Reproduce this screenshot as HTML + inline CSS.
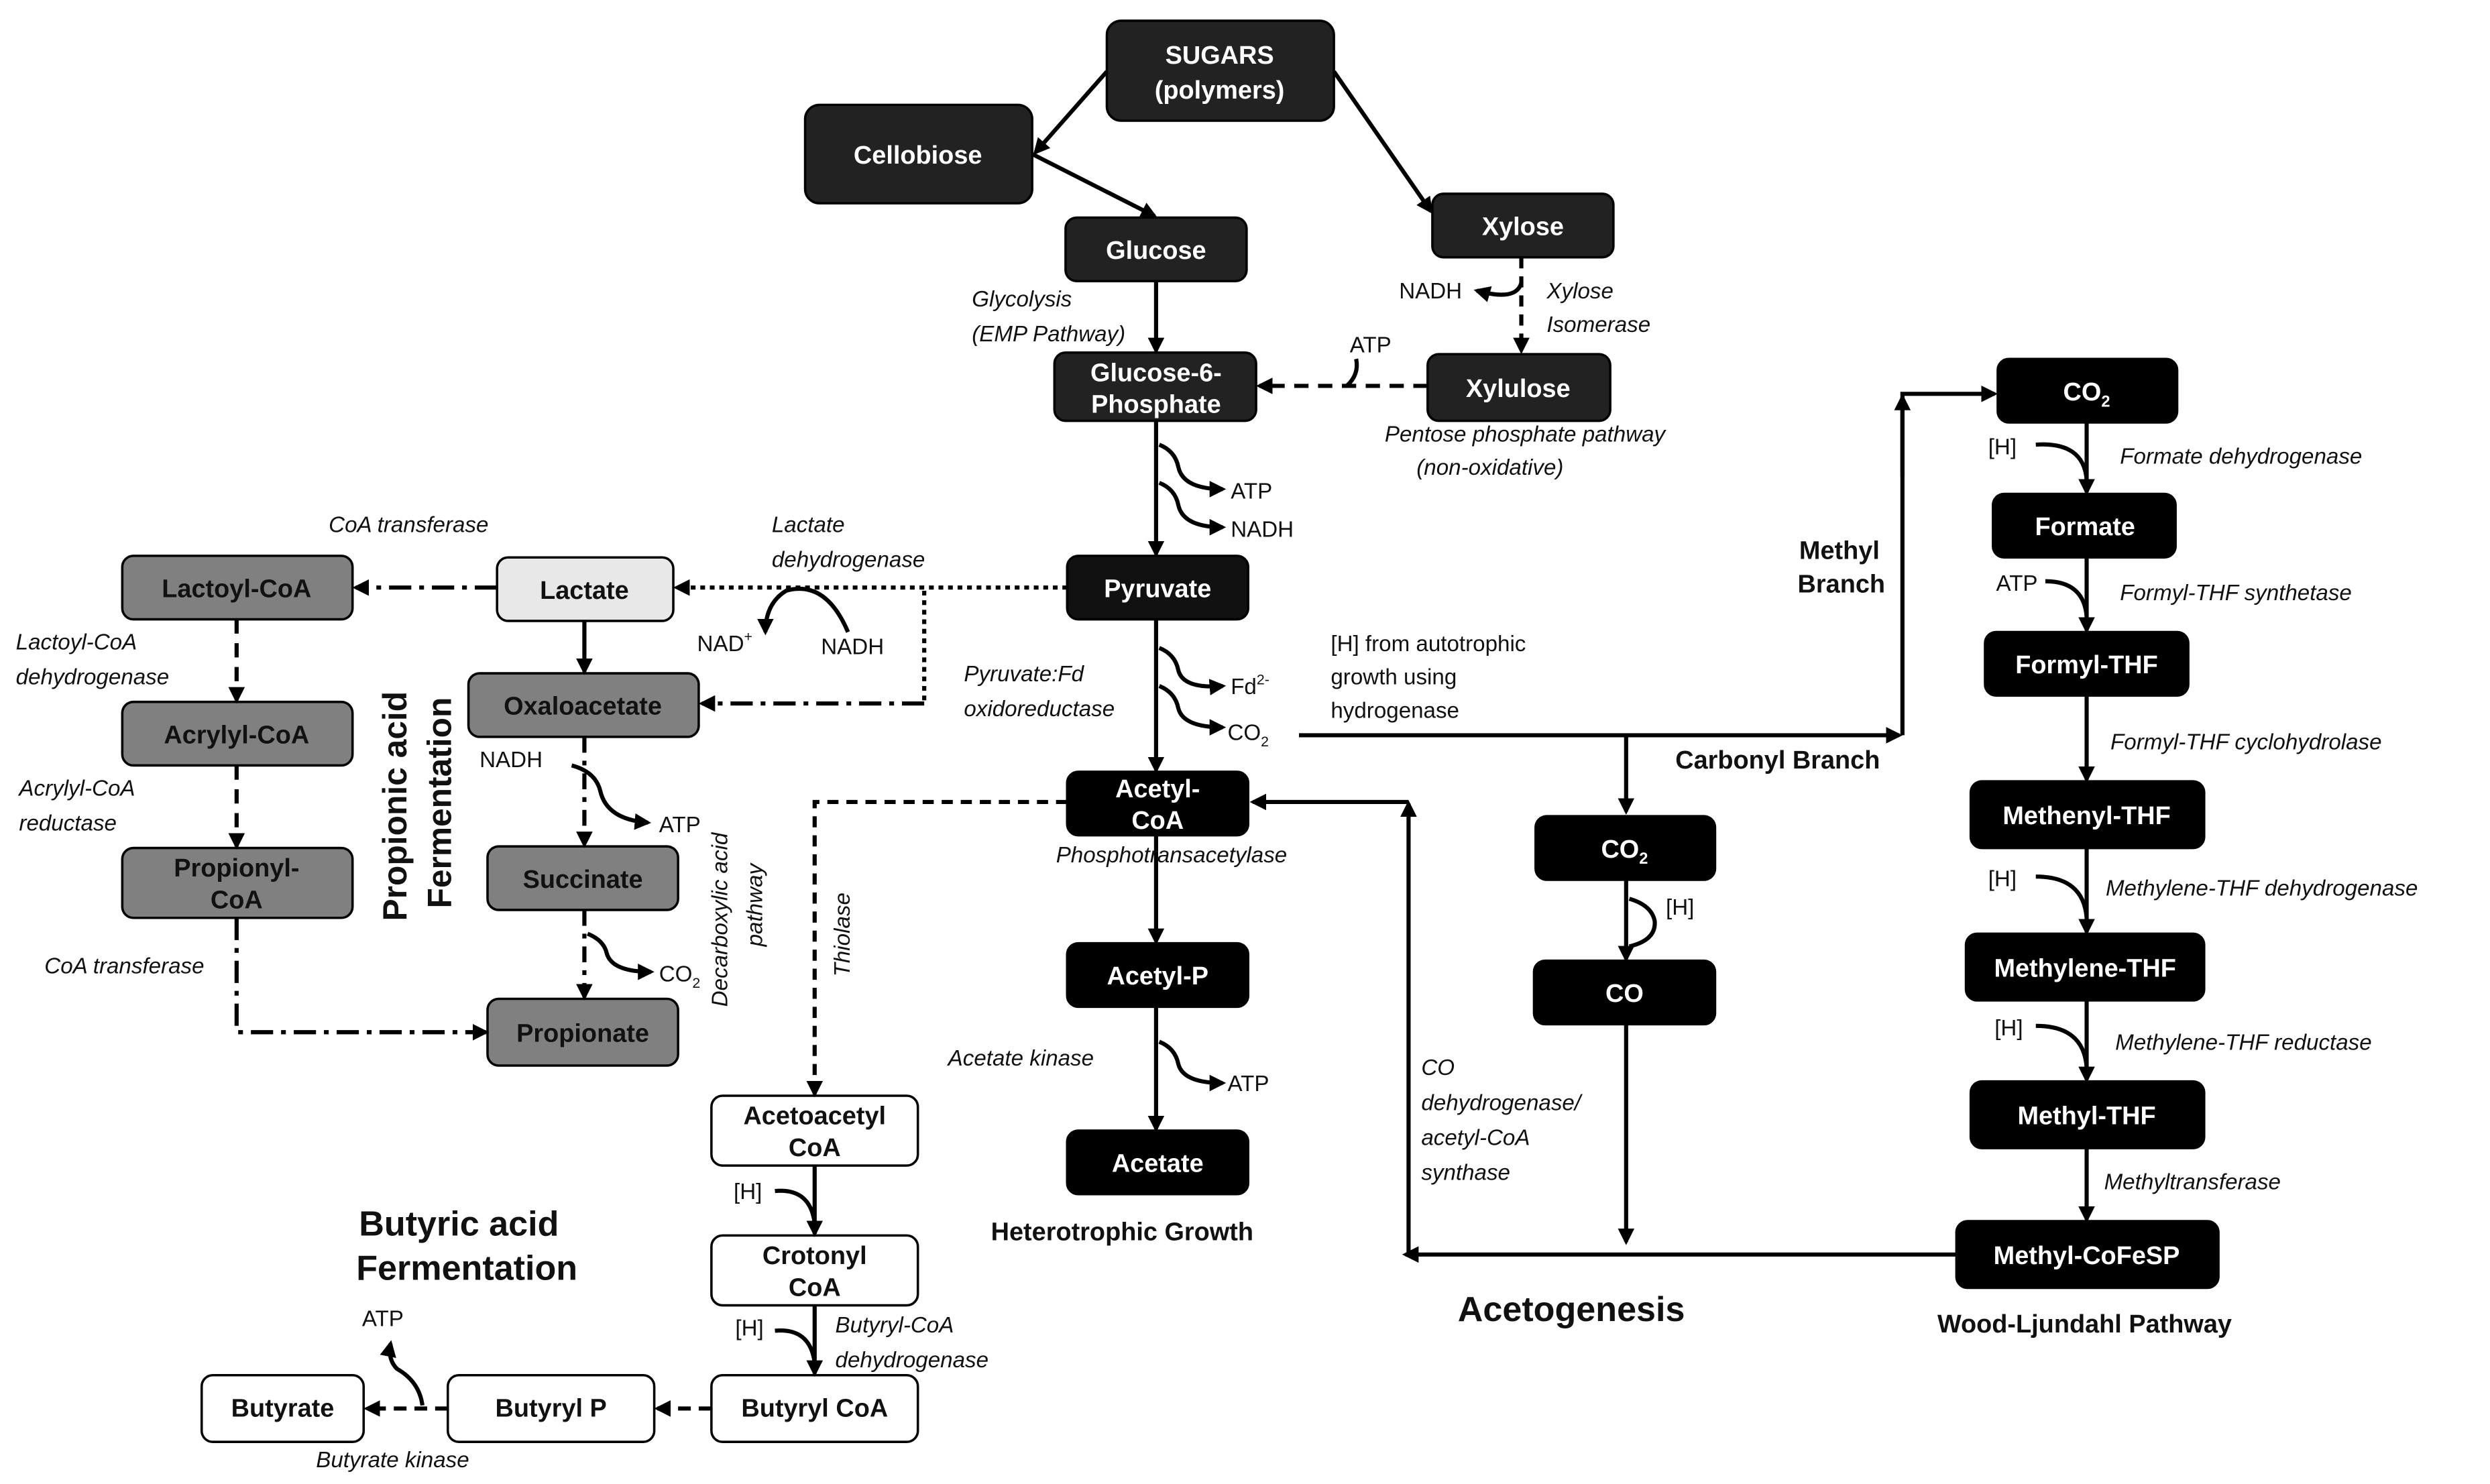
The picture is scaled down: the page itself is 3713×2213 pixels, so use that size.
<!DOCTYPE html>
<html><head><meta charset="utf-8"><style>
html,body{margin:0;padding:0;background:#fff;}
svg{display:block;}
text{font-family:"Liberation Sans",sans-serif;}
.n{font-weight:bold;font-size:16px;fill:#fff;text-anchor:middle;}
.nd{font-weight:bold;font-size:16px;fill:#111;text-anchor:middle;}
.i{font-style:italic;font-size:14px;fill:#111;}
.s{font-size:14px;fill:#111;}
.b{font-weight:bold;font-size:16px;fill:#111;}
.L{stroke:#000;stroke-width:2.6;fill:none;}
</style></head><body>
<svg width="3713" height="2213" viewBox="0 0 1568 934.5" xmlns="http://www.w3.org/2000/svg">
<defs>
<marker id="a" viewBox="0 0 10 10" refX="8" refY="5" markerWidth="4" markerHeight="4" orient="auto"><path d="M0,0L10,5L0,10z" fill="#000"/></marker>
</defs>
<g stroke="#000" stroke-width="1.5">
<rect x="697" y="13" width="143" height="63" rx="9" fill="#222"/>
<rect x="507" y="66" width="143" height="62" rx="9" fill="#222"/>
<rect x="671" y="137" width="114" height="40" rx="7" fill="#222"/>
<rect x="902" y="122" width="114" height="40" rx="7" fill="#222"/>
<rect x="664" y="222" width="127" height="43" rx="7" fill="#222"/>
<rect x="899" y="223" width="115" height="42" rx="7" fill="#222"/>
<rect x="672" y="350" width="114" height="40" rx="7" fill="#111"/>
<rect x="313" y="351" width="111" height="40" rx="7" fill="#e8e8e8"/>
<rect x="77" y="350" width="145" height="40" rx="7" fill="#808080"/>
<rect x="295" y="424" width="145" height="40" rx="7" fill="#808080"/>
<rect x="77" y="442" width="145" height="40" rx="7" fill="#808080"/>
<rect x="77" y="534" width="145" height="44" rx="7" fill="#808080"/>
<rect x="307" y="533" width="120" height="40" rx="7" fill="#808080"/>
<rect x="307" y="629" width="120" height="42" rx="7" fill="#808080"/>
<rect x="672" y="486" width="114" height="40" rx="7" fill="#000"/>
<rect x="672" y="594" width="114" height="40" rx="7" fill="#000"/>
<rect x="672" y="712" width="114" height="40" rx="7" fill="#000"/>
<rect x="448" y="690" width="130" height="44" rx="7" fill="#fff"/>
<rect x="448" y="778" width="130" height="44" rx="7" fill="#fff"/>
<rect x="448" y="866" width="130" height="42" rx="7" fill="#fff"/>
<rect x="282" y="866" width="130" height="42" rx="7" fill="#fff"/>
<rect x="127" y="866" width="102" height="42" rx="7" fill="#fff"/>
<rect x="967" y="514" width="113" height="40" rx="7" fill="#000"/>
<rect x="966" y="605" width="114" height="40" rx="7" fill="#000"/>
<rect x="1258" y="226" width="113" height="40" rx="7" fill="#000"/>
<rect x="1255" y="311" width="115" height="40" rx="7" fill="#000"/>
<rect x="1250" y="398" width="128" height="40" rx="7" fill="#000"/>
<rect x="1241" y="492" width="147" height="42" rx="7" fill="#000"/>
<rect x="1238" y="588" width="150" height="42" rx="7" fill="#000"/>
<rect x="1241" y="681" width="147" height="42" rx="7" fill="#000"/>
<rect x="1232" y="769" width="165" height="42" rx="7" fill="#000"/>
</g>
<text class="n" x="768" y="40">SUGARS</text><text class="n" x="768" y="62">(polymers)</text>
<text class="n" x="578" y="103">Cellobiose</text>
<text class="n" x="728" y="163">Glucose</text>
<text class="n" x="959" y="148">Xylose</text>
<text class="n" x="728" y="240">Glucose-6-</text><text class="n" x="728" y="260">Phosphate</text>
<text class="n" x="956" y="250">Xylulose</text>
<text class="n" x="729" y="376">Pyruvate</text>
<text class="nd" x="368" y="377">Lactate</text>
<text class="nd" x="149" y="376">Lactoyl-CoA</text>
<text class="nd" x="367" y="450">Oxaloacetate</text>
<text class="nd" x="149" y="468">Acrylyl-CoA</text>
<text class="nd" x="149" y="552">Propionyl-</text><text class="nd" x="149" y="572">CoA</text>
<text class="nd" x="367" y="559">Succinate</text>
<text class="nd" x="367" y="656">Propionate</text>
<text class="n" x="729" y="502">Acetyl-</text><text class="n" x="729" y="522">CoA</text>
<text class="n" x="729" y="620">Acetyl-P</text>
<text class="n" x="729" y="738">Acetate</text>
<text class="nd" x="513" y="708">Acetoacetyl</text><text class="nd" x="513" y="728">CoA</text>
<text class="nd" x="513" y="796">Crotonyl</text><text class="nd" x="513" y="816">CoA</text>
<text class="nd" x="513" y="892">Butyryl CoA</text>
<text class="nd" x="347" y="892">Butyryl P</text>
<text class="nd" x="178" y="892">Butyrate</text>
<text class="n" x="1023" y="540">CO<tspan font-size="10" dy="4">2</tspan></text>
<text class="n" x="1023" y="631">CO</text>
<text class="n" x="1314" y="252">CO<tspan font-size="10" dy="4">2</tspan></text>
<text class="n" x="1313" y="337">Formate</text>
<text class="n" x="1314" y="424">Formyl-THF</text>
<text class="n" x="1314" y="519">Methenyl-THF</text>
<text class="n" x="1313" y="615">Methylene-THF</text>
<text class="n" x="1314" y="708">Methyl-THF</text>
<text class="n" x="1314" y="796">Methyl-CoFeSP</text>

<g class="L">
<path d="M697,45L652,96" marker-end="url(#a)"/>
<path d="M650,97L727,136" marker-end="url(#a)"/>
<path d="M840,45L901,133" marker-end="url(#a)"/>
<path d="M728,177V221" marker-end="url(#a)"/>
<path d="M958,162V221" stroke-dasharray="7,5" marker-end="url(#a)"/>
<path d="M958,178Q955,190 930,183" marker-end="url(#a)"/>
<path d="M899,243H793" stroke-dasharray="9,6" marker-end="url(#a)"/>
<path d="M848,243Q856,236 854,226"/>
<path d="M728,265V349" marker-end="url(#a)"/>
<path d="M730,280Q740,284 742,294Q745,308 770,308" marker-end="url(#a)"/>
<path d="M730,304Q740,308 742,318Q745,332 770,332" marker-end="url(#a)"/>
<path d="M672,370H426" stroke-dasharray="3,3" marker-end="url(#a)"/>
<path d="M534,398Q520,365 495,372Q482,380 482,398" marker-end="url(#a)"/>
<path d="M582,372V443" stroke-dasharray="3,3"/>
<path d="M582,443H442" stroke-dasharray="14,5,3,5" marker-end="url(#a)"/>
<path d="M313,370H224" stroke-dasharray="14,5,3,5" marker-end="url(#a)"/>
<path d="M368,391V423" marker-end="url(#a)"/>
<path d="M149,390V441" stroke-dasharray="9,6" marker-end="url(#a)"/>
<path d="M149,482V533" stroke-dasharray="9,6" marker-end="url(#a)"/>
<path d="M149,578V650H306" stroke-dasharray="14,5,3,5" marker-end="url(#a)"/>
<path d="M368,464V532" stroke-dasharray="10,5,3,5" marker-end="url(#a)"/>
<path d="M360,482Q375,486 378,498Q382,516 408,518" marker-end="url(#a)"/>
<path d="M368,573V628" stroke-dasharray="10,5,3,5" marker-end="url(#a)"/>
<path d="M370,588Q380,592 382,600Q385,612 410,612" marker-end="url(#a)"/>
<path d="M728,390V485" marker-end="url(#a)"/>
<path d="M730,408Q740,412 742,422Q745,434 770,432" marker-end="url(#a)"/>
<path d="M730,432Q740,436 742,446Q745,458 770,458" marker-end="url(#a)"/>
<path d="M818,463H1196" marker-end="url(#a)"/>
<path d="M1198,463V248H1256" marker-end="url(#a)"/>
<path d="M1198,300V250" marker-end="url(#a)"/>
<path d="M1024,463V511" marker-end="url(#a)"/>
<path d="M1024,554V604" marker-end="url(#a)"/>
<path d="M1026,566Q1040,570 1042,580Q1043,592 1026,596"/>
<path d="M1024,645V782" marker-end="url(#a)"/>
<path d="M1232,790H885" marker-end="url(#a)"/>
<path d="M887,790V506" marker-end="url(#a)"/>
<path d="M887,505H789" marker-end="url(#a)"/>
<path d="M728,526V593" marker-end="url(#a)"/>
<path d="M728,634V711" marker-end="url(#a)"/>
<path d="M730,656Q740,660 742,670Q745,682 770,682" marker-end="url(#a)"/>
<path d="M672,505H513V689" stroke-dasharray="7,5" marker-end="url(#a)"/>
<path d="M513,734V777" marker-end="url(#a)"/>
<path d="M488,750Q510,748 513,770"/>
<path d="M513,822V865" marker-end="url(#a)"/>
<path d="M488,838Q510,836 513,858"/>
<path d="M448,887H414" stroke-dasharray="8,5" marker-end="url(#a)"/>
<path d="M282,887H231" stroke-dasharray="8,5" marker-end="url(#a)"/>
<path d="M266,885Q264,870 250,862Q244,856 246,846" marker-end="url(#a)"/>
<path d="M1314,266V310" marker-end="url(#a)"/>
<path d="M1282,280Q1312,278 1314,302"/>
<path d="M1314,351V397" marker-end="url(#a)"/>
<path d="M1288,366Q1312,366 1314,388"/>
<path d="M1314,438V491" marker-end="url(#a)"/>
<path d="M1314,534V587" marker-end="url(#a)"/>
<path d="M1282,552Q1312,552 1314,578"/>
<path d="M1314,630V680" marker-end="url(#a)"/>
<path d="M1282,646Q1312,646 1314,672"/>
<path d="M1314,723V768" marker-end="url(#a)"/>
</g>

<text class="i" x="612" y="193">Glycolysis</text>
<text class="i" x="612" y="215">(EMP Pathway)</text>
<text class="s" x="881" y="188">NADH</text>
<text class="i" x="974" y="188">Xylose</text>
<text class="i" x="974" y="209">Isomerase</text>
<text class="s" x="850" y="222">ATP</text>
<text class="i" x="872" y="278">Pentose phosphate pathway</text>
<text class="i" x="892" y="299">(non-oxidative)</text>
<text class="s" x="775" y="314">ATP</text>
<text class="s" x="775" y="338">NADH</text>
<text class="i" x="207" y="335">CoA transferase</text>
<text class="i" x="486" y="335">Lactate</text>
<text class="i" x="486" y="357">dehydrogenase</text>
<text class="s" x="439" y="410">NAD<tspan font-size="9" dy="-6">+</tspan></text>
<text class="s" x="517" y="412">NADH</text>
<text class="i" x="10" y="409">Lactoyl-CoA</text>
<text class="i" x="10" y="431">dehydrogenase</text>
<text class="i" x="12" y="501">Acrylyl-CoA</text>
<text class="i" x="12" y="523">reductase</text>
<text class="i" x="28" y="613">CoA transferase</text>
<text class="s" x="302" y="483">NADH</text>
<text class="s" x="415" y="524">ATP</text>
<text class="s" x="415" y="618">CO<tspan font-size="9" dy="4">2</tspan></text>
<text x="256" y="580" transform="rotate(-90 256 580)" style="font-weight:bold;font-size:21px;fill:#111">Propionic acid</text>
<text x="284" y="572" transform="rotate(-90 284 572)" style="font-weight:bold;font-size:21px;fill:#111">Fermentation</text>
<text class="i" x="458" y="634" transform="rotate(-90 458 634)">Decarboxylic acid</text>
<text class="i" x="480" y="596" transform="rotate(-90 480 596)">pathway</text>
<text class="i" x="535" y="615" transform="rotate(-90 535 615)" font-size="13">Thiolase</text>
<text class="i" x="607" y="429">Pyruvate:Fd</text>
<text class="i" x="607" y="451">oxidoreductase</text>
<text class="s" x="775" y="437">Fd<tspan font-size="9" dy="-6">2-</tspan></text>
<text class="s" x="773" y="466">CO<tspan font-size="9" dy="4">2</tspan></text>
<text class="s" x="838" y="410">[H] from autotrophic</text>
<text class="s" x="838" y="431">growth using</text>
<text class="s" x="838" y="452">hydrogenase</text>
<text class="i" x="665" y="543">Phosphotransacetylase</text>
<text class="i" x="597" y="671">Acetate kinase</text>
<text class="s" x="773" y="687">ATP</text>
<text class="b" x="624" y="781">Heterotrophic Growth</text>
<text class="s" x="462" y="755">[H]</text>
<text class="s" x="463" y="841">[H]</text>
<text class="i" x="526" y="839">Butyryl-CoA</text>
<text class="i" x="526" y="861">dehydrogenase</text>
<text class="s" x="228" y="835">ATP</text>
<text class="i" x="199" y="924">Butyrate kinase</text>
<text x="289" y="778" text-anchor="middle" style="font-weight:bold;font-size:22px;fill:#111">Butyric acid</text>
<text x="294" y="806" text-anchor="middle" style="font-weight:bold;font-size:22px;fill:#111">Fermentation</text>
<text class="b" x="1133" y="352">Methyl</text>
<text class="b" x="1132" y="373">Branch</text>
<text class="b" x="1055" y="484">Carbonyl Branch</text>
<text class="s" x="1049" y="576">[H]</text>
<text class="i" x="895" y="677">CO</text>
<text class="i" x="895" y="699">dehydrogenase/</text>
<text class="i" x="895" y="721">acetyl-CoA</text>
<text class="i" x="895" y="743">synthase</text>
<text x="918" y="832" style="font-weight:bold;font-size:22px;fill:#111">Acetogenesis</text>
<text class="b" x="1220" y="839">Wood-Ljundahl Pathway</text>
<text class="s" x="1252" y="286">[H]</text>
<text class="i" x="1335" y="292">Formate dehydrogenase</text>
<text class="s" x="1257" y="372">ATP</text>
<text class="i" x="1335" y="378">Formyl-THF synthetase</text>
<text class="i" x="1329" y="472">Formyl-THF cyclohydrolase</text>
<text class="s" x="1252" y="558">[H]</text>
<text class="i" x="1326" y="564">Methylene-THF dehydrogenase</text>
<text class="s" x="1256" y="652">[H]</text>
<text class="i" x="1332" y="661">Methylene-THF reductase</text>
<text class="i" x="1325" y="749">Methyltransferase</text>
</svg>
</body></html>
